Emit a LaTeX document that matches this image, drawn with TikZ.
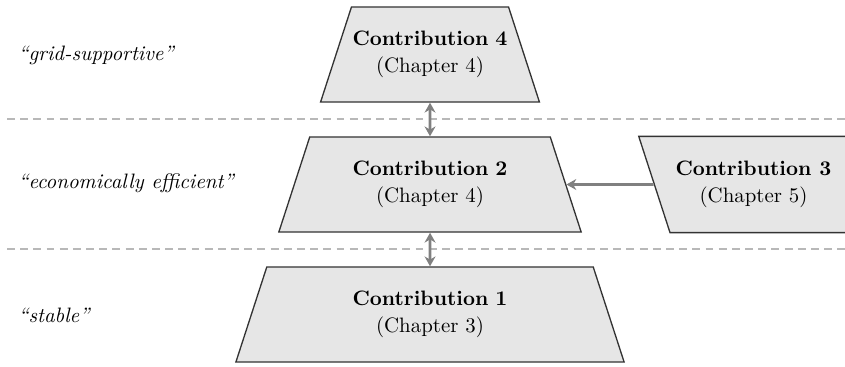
\documentclass[tikz,border=0pt]{standalone}
\usetikzlibrary{shapes.geometric, arrows.meta}
\definecolor{boxFill}{HTML}{E6E6E6}
\definecolor{boxLine}{HTML}{333333}
\definecolor{arrGray}{HTML}{808080}
\definecolor{sepGray}{HTML}{B8B8B8}

\tikzset{
  contrib/.style = {draw=boxLine, fill=boxFill, line width=0.6pt,
                    trapezium,
                    trapezium left angle=72, trapezium right angle=72,
                    inner xsep=0pt, inner ysep=11pt, align=center,
                    font=\fontsize{9.5}{12.3}\selectfont},
  level/.style   = {anchor=west, font=\fontsize{9.5}{12}\selectfont\itshape},
  levelsep/.style = {sepGray, line width=0.6pt, dash pattern=on 3.6pt off 2.4pt},
  link/.style    = {arrGray, line width=1.3pt}
}

\begin{document}
\begin{tikzpicture}[> = {Stealth[length=4.5pt, width=5pt]}]
    \useasboundingbox (0, 0) rectangle (13.52, 5.856) ;

    % level separators %
    \draw [levelsep] (0.112, 3.952) -- (13.52, 3.952) ;
    \draw [levelsep] (0.112, 1.872) -- (13.52, 1.872) ;

    % level names %
    \node [level] at (0.17, 4.976) (lvl-grid) {``grid-supportive''} ;
    \node [level] at (0.17, 2.928) (lvl-eco) {``economically efficient''} ;
    \node [level] at (0.17, 0.816) (lvl-stab) {``stable''} ;

    % contributions %

    % grid-supportive
    \node [contrib, text width=71.5pt]
          at (6.88, 4.984)
          (c4)
          {\textbf{Contribution 4}\\(Chapter 4)} ;

    % economically efficient
    \node [contrib, text width=109.5pt]
          at (6.88, 2.904)
          (c2)
          {\textbf{Contribution 2}\\(Chapter 4)} ;

    % stable
    \node [contrib, text width=148.6pt]
          at (6.88, 0.824)
          (c1)
          {\textbf{Contribution 1}\\(Chapter 3)} ;

    % side contribution (runs off the page)
    \node [contrib, text width=3.6cm,
          trapezium left angle=108, trapezium right angle=85]
          at (12.52, 2.904)
          (c3)
          {\phantom{\textbf{(C)}}\\\phantom{(C)}} ;
    \node [align=center, font=\fontsize{9.5}{12.3}\selectfont]
          at (12.056, 2.904)
          (c3-text)
          {\textbf{Contribution 3}\\(Chapter 5)} ;

    % links %
    \draw [link, <->] (c4) -- (c2) ;
    \draw [link, <->] (c2) -- (c1) ;
    \draw [link, ->] (c3) -- (c2) ;

\end{tikzpicture}
\end{document}
